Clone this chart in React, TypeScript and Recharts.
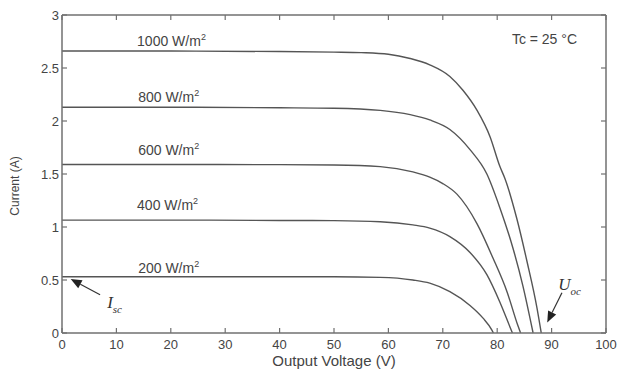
import { LineChart, Line, XAxis, YAxis, ReferenceDot, ReferenceLine } from "recharts";

// axis ticks
const xTicks = [0, 10, 20, 30, 40, 50, 60, 70, 80, 90, 100];
const yTicks = [0, 0.5, 1, 1.5, 2, 2.5, 3];

// I-V curves (voltage V, current A)
const v1000 = [0, 20, 40, 50, 55, 60, 64, 67.6, 71.3, 73.7, 76.3, 78.7, 80.5, 81.4, 83.6, 85.5, 87.3, 88.1];
const i1000 = [2.66, 2.66, 2.655, 2.65, 2.645, 2.63, 2.59, 2.53, 2.42, 2.29, 2.1, 1.85, 1.57, 1.46, 1.08, 0.67, 0.24, 0];

const v800 = [0, 20, 40, 50, 58.5, 64, 67.6, 71.3, 75, 78.1, 80.5, 82.9, 84.7, 86.6];
const i800 = [2.13, 2.13, 2.125, 2.12, 2.1, 2.06, 2.01, 1.92, 1.73, 1.5, 1.18, 0.8, 0.45, 0];

const v600 = [0, 20, 40, 50, 58.5, 64.5, 67.6, 70, 72.6, 76.3, 79.2, 81.8, 83.8, 84.3];
const i600 = [1.59, 1.59, 1.588, 1.585, 1.57, 1.52, 1.47, 1.41, 1.31, 1.03, 0.71, 0.39, 0.07, 0];

const v400 = [0, 20, 40, 50, 58.5, 64.5, 67.6, 71.3, 75, 78.1, 80.5, 82.4, 82.8];
const i400 = [1.065, 1.065, 1.062, 1.06, 1.05, 1.02, 0.99, 0.91, 0.76, 0.55, 0.29, 0.05, 0];

const v200 = [0, 20, 40, 50, 58.5, 64.5, 67.6, 71.3, 75, 77.4, 79, 79.3];
const i200 = [0.53, 0.53, 0.53, 0.53, 0.525, 0.5, 0.47, 0.39, 0.26, 0.14, 0.03, 0];

const curveNames = ["1000", "800", "600", "400", "200"];
// where each curve label sits (V, A)
const labelV = [13.8, 14, 14, 13.8, 14];
const labelI = [2.71, 2.18, 1.68, 1.16, 0.57];

const toPoints = (v: number[], i: number[]) => v.map((x, k) => ({ v: x, i: i[k] }));
const curves = [
  toPoints(v1000, i1000),
  toPoints(v800, i800),
  toPoints(v600, i600),
  toPoints(v400, i400),
  toPoints(v200, i200),
];

const AXIS = "#707070";
const TEXT = "#444";
const LINE = "#555";
const FONT = "'Liberation Sans', Arial, sans-serif";

const BottomTick = ({ x, y, payload }: any) => (
  <g>
    <line x1={x} y1={y} x2={x} y2={y - 5} stroke={AXIS} strokeWidth={1.2} />
    <text x={x} y={y + 16} textAnchor="middle" fill={TEXT} fontSize={13} fontFamily={FONT}>
      {payload.value}
    </text>
  </g>
);
const TopTick = ({ x, y }: any) => (
  <line x1={x} y1={y} x2={x} y2={y + 5} stroke={AXIS} strokeWidth={1.2} />
);
const LeftTick = ({ x, y, payload }: any) => (
  <g>
    <line x1={x} y1={y} x2={x + 5} y2={y} stroke={AXIS} strokeWidth={1.2} />
    <text x={x - 3} y={y + 5} textAnchor="end" fill={TEXT} fontSize={13} fontFamily={FONT}>
      {payload.value}
    </text>
  </g>
);
const RightTick = ({ x, y }: any) => (
  <line x1={x} y1={y} x2={x - 5} y2={y} stroke={AXIS} strokeWidth={1.2} />
);

const Arrow = ({ x1, y1, x2, y2 }: any) => {
  // arrow from (x1,y1) tail to (x2,y2) tip
  const a = Math.atan2(y2 - y1, x2 - x1);
  const len = 11;
  const w = 4.5;
  const bx = x2 - len * Math.cos(a);
  const by = y2 - len * Math.sin(a);
  const px = -Math.sin(a) * w;
  const py = Math.cos(a) * w;
  return (
    <g>
      <line x1={x1} y1={y1} x2={bx} y2={by} stroke="#333" strokeWidth={1.2} />
      <polygon points={`${x2},${y2} ${bx + px},${by + py} ${bx - px},${by - py}`} fill="#222" />
    </g>
  );
};

export default function App() {
  return (
    <div style={{ position: "absolute", left: 0, top: 0, background: "#fff" }}>
      <LineChart width={622} height={371} margin={{ top: 14, right: 15, bottom: 0, left: 0 }}>
        <XAxis
          dataKey="v"
          type="number"
          domain={[0, 100]}
          ticks={xTicks}
          height={38}
          tickSize={0}
          tickMargin={0}
          tickLine={false}
          tick={<BottomTick />}
          axisLine={{ stroke: AXIS, strokeWidth: 1.5 }}
          label={{
            value: "Output Voltage (V)",
            position: "insideBottom",
            offset: 5,
            fill: TEXT,
            fontSize: 15,
            fontFamily: FONT,
          }}
        />
        <XAxis
          xAxisId="top"
          orientation="top"
          dataKey="v"
          type="number"
          domain={[0, 100]}
          ticks={xTicks}
          height={1}
          tickSize={0}
          tickMargin={0}
          tickLine={false}
          tick={<TopTick />}
          axisLine={{ stroke: AXIS, strokeWidth: 1.5 }}
        />
        <YAxis
          type="number"
          domain={[0, 3]}
          ticks={yTicks}
          width={62}
          tickSize={0}
          tickMargin={0}
          tickLine={false}
          tick={<LeftTick />}
          axisLine={{ stroke: AXIS, strokeWidth: 1.5 }}
          label={{
            content: ({ viewBox }: any) => {
              const cx = viewBox.x + 15;
              const cy = viewBox.y + viewBox.height / 2 + 12;
              return (
                <text
                  x={cx}
                  y={cy}
                  transform={`rotate(-90 ${cx} ${cy})`}
                  textAnchor="middle"
                  dominantBaseline="central"
                  fill={TEXT}
                  fontSize={12}
                  fontFamily={FONT}
                >
                  Current (A)
                </text>
              );
            },
          }}
        />
        <YAxis
          yAxisId="right"
          orientation="right"
          type="number"
          domain={[0, 3]}
          ticks={yTicks}
          width={1}
          tickSize={0}
          tickMargin={0}
          tickLine={false}
          tick={<RightTick />}
          axisLine={{ stroke: AXIS, strokeWidth: 1.5 }}
        />

        {curves.map((pts, k) => (
          <Line
            key={curveNames[k]}
            data={pts}
            dataKey="i"
            type="monotone"
            stroke={LINE}
            strokeWidth={1.4}
            dot={false}
            activeDot={false}
            isAnimationActive={false}
          />
        ))}

        {/* invisible series so the mirrored top/right axes are drawn */}
        <Line
          data={curves[0]}
          dataKey="i"
          xAxisId="top"
          yAxisId="right"
          stroke="none"
          dot={false}
          activeDot={false}
          legendType="none"
          isAnimationActive={false}
        />

        {curveNames.map((name, k) => (
          <ReferenceDot
            key={"lbl" + name}
            x={labelV[k]}
            y={labelI[k]}
            r={0}
            ifOverflow="visible"
            shape={(p: any) => (
              <text x={p.cx} y={p.cy} fill={TEXT} fontSize={14} fontFamily={FONT}>
                {name} W/m
                <tspan fontSize={9} dy={-6}>2</tspan>
              </text>
            )}
          />
        ))}

        <ReferenceDot
          x={82.7}
          y={2.73}
          r={0}
          ifOverflow="visible"
          shape={(p: any) => (
            <text x={p.cx} y={p.cy} fill={TEXT} fontSize={14} fontFamily={FONT}>
              Tc = 25 °C
            </text>
          )}
        />

        <ReferenceLine
          segment={[{ x: 7.0, y: 0.36 }, { x: 1.6, y: 0.51 }]}
          ifOverflow="visible"
          shape={(p: any) => <Arrow {...p} />}
        />
        <ReferenceDot
          x={8.3}
          y={0.236}
          r={0}
          ifOverflow="visible"
          shape={(p: any) => (
            <text x={p.cx} y={p.cy} fill="#333" fontFamily="'Liberation Serif', serif" fontStyle="italic">
              <tspan fontSize={17}>I</tspan>
              <tspan fontSize={11} dy={5}>sc</tspan>
            </text>
          )}
        />

        <ReferenceLine
          segment={[{ x: 91.9, y: 0.38 }, { x: 89.2, y: 0.1 }]}
          ifOverflow="visible"
          shape={(p: any) => <Arrow {...p} />}
        />
        <ReferenceDot
          x={91.2}
          y={0.41}
          r={0}
          ifOverflow="visible"
          shape={(p: any) => (
            <text x={p.cx} y={p.cy} fill="#333" fontFamily="'Liberation Serif', serif" fontStyle="italic">
              <tspan fontSize={17}>U</tspan>
              <tspan fontSize={11} dy={5}>oc</tspan>
            </text>
          )}
        />
      </LineChart>
    </div>
  );
}
